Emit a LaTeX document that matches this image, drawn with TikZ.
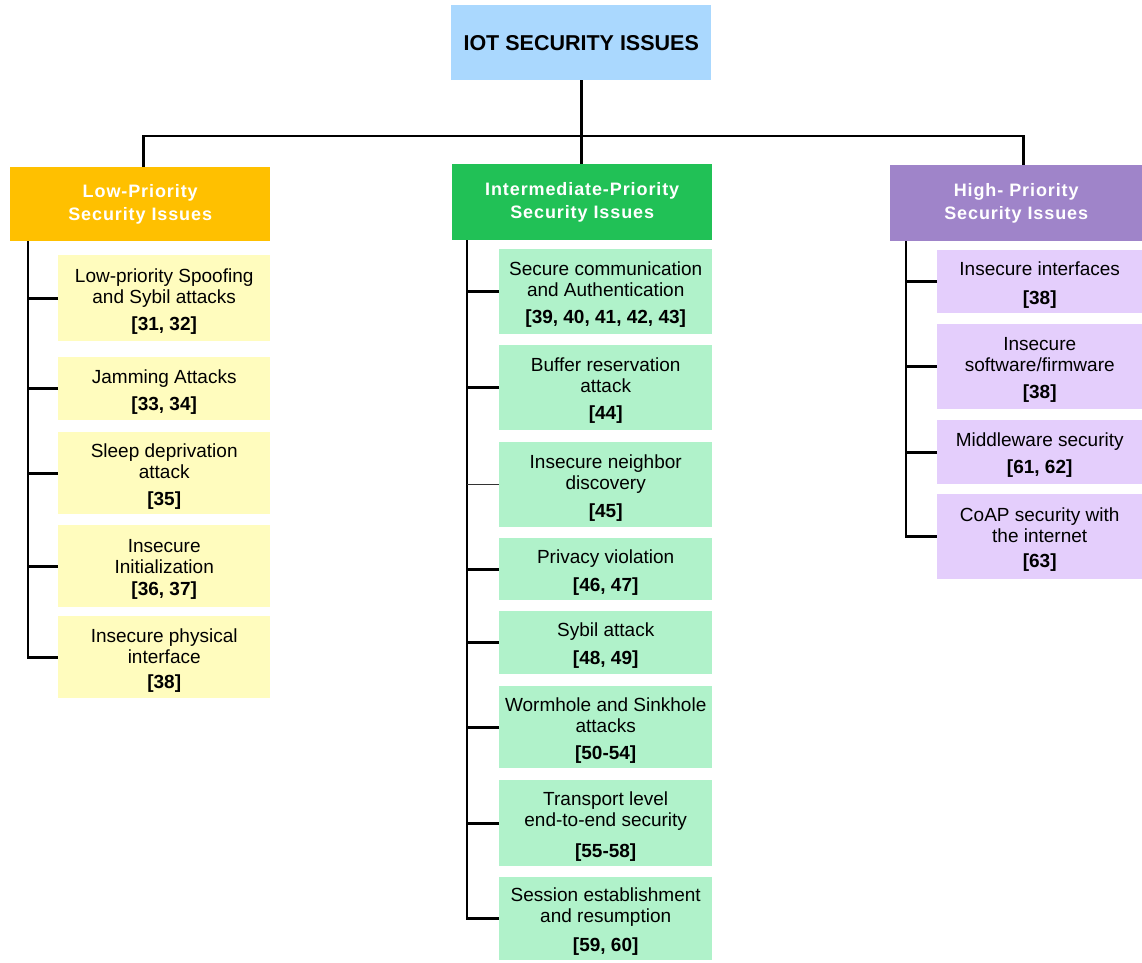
\documentclass[tikz,border=0pt]{standalone}
\usepackage{fontspec}
\setmainfont{Liberation Sans}
\newfontfamily\headfont{Liberation Sans}[LetterSpace=5]
\usetikzlibrary{calc}
\definecolor{rootfill}{RGB}{170,216,254}
\definecolor{lowhead}{RGB}{255,192,0}
\definecolor{midhead}{RGB}{33,193,86}
\definecolor{highhead}{RGB}{159,132,201}
\definecolor{lowfill}{RGB}{255,252,190}
\definecolor{midfill}{RGB}{176,242,202}
\definecolor{highfill}{RGB}{228,206,252}
% item text: lines of the label, then the bold reference line
\newcommand\itemtext[3][6pt]{\begin{tabular}{@{}c@{}}\rule{0pt}{22pt}#2\\[#1]\textbf{#3}\end{tabular}}
\begin{document}
\begin{tikzpicture}[x=1pt,y=-1pt,
  box/.style={anchor=north west, inner sep=0pt, text=black,
    font=\fontsize{19}{21}\selectfont},
  lowitem/.style={box, fill=lowfill, minimum width=212pt},
  miditem/.style={box, fill=midfill, minimum width=213pt},
  highitem/.style={box, fill=highfill, minimum width=205pt},
  header/.style={anchor=north west, inner sep=0pt, align=center, text=white,
    font=\headfont\bfseries\fontsize{18}{23}\selectfont},
  conn/.style={line width=2.6pt, draw=black},
  thinconn/.style={line width=1.3pt, draw=black!80}]
\useasboundingbox (0,0) rectangle (1142,962);

% root
\node[anchor=north west, inner sep=0pt, fill=rootfill, minimum width=260pt,
  minimum height=75pt, font=\bfseries\fontsize{21.5}{24}\selectfont]
  (root) at (451,5) {IOT SECURITY ISSUES};

% priority headers
\node[header, fill=lowhead, minimum width=260pt, minimum height=74pt]
  (lh) at (10,167) {Low-Priority\\Security Issues};
\node[header, fill=midhead, minimum width=260pt, minimum height=76pt]
  (mh) at (452,164) {Intermediate-Priority\\Security Issues};
\node[header, fill=highhead, minimum width=252pt, minimum height=76pt]
  (hh) at (890,165) {High- Priority\\Security Issues};

% low priority items
\node[lowitem, minimum height=86pt] (l1) at (58,255)
  {\itemtext{Low-priority Spoofing\\and Sybil attacks}{[31, 32]}};
\node[lowitem, minimum height=63pt] (l2) at (58,357)
  {\itemtext{Jamming Attacks}{[33, 34]}};
\node[lowitem, minimum height=82pt] (l3) at (58,432)
  {\itemtext{Sleep deprivation\\attack}{[35]}};
\node[lowitem, minimum height=82pt] (l4) at (58,525)
  {\itemtext[1pt]{Insecure\\Initialization}{[36, 37]}};
\node[lowitem, minimum height=82pt] (l5) at (58,616)
  {\itemtext[4pt]{Insecure physical\\interface}{[38]}};

% intermediate priority items
\node[miditem, minimum height=85pt] (m1) at (499,249)
  {\itemtext{Secure communication\\and Authentication}{[39, 40, 41, 42, 43]}};
\node[miditem, minimum height=85pt] (m2) at (499,345)
  {\itemtext{Buffer reservation\\attack}{[44]}};
\node[miditem, minimum height=85pt] (m3) at (499,442)
  {\itemtext[7pt]{Insecure neighbor\\discovery}{[45]}};
\node[miditem, minimum height=62pt] (m4) at (499,538)
  {\itemtext[7pt]{Privacy violation}{[46, 47]}};
\node[miditem, minimum height=63pt] (m5) at (499,611)
  {\itemtext[7pt]{Sybil attack}{[48, 49]}};
\node[miditem, minimum height=82pt] (m6) at (499,686)
  {\itemtext{Wormhole and Sinkhole\\attacks}{[50-54]}};
\node[miditem, minimum height=86pt] (m7) at (499,780)
  {\itemtext[10pt]{Transport level\\end-to-end security}{[55-58]}};
\node[miditem, minimum height=83pt] (m8) at (499,877)
  {\itemtext[8pt]{Session establishment\\and resumption}{[59, 60]}};

% high priority items
\node[highitem, minimum height=63pt] (h1) at (937,250)
  {\itemtext[8pt]{Insecure interfaces}{[38]}};
\node[highitem, minimum height=85pt] (h2) at (937,324)
  {\itemtext{Insecure\\software/firmware}{[38]}};
\node[highitem, minimum height=64pt] (h3) at (937,420)
  {\itemtext{Middleware security}{[61, 62]}};
\node[highitem, minimum height=85pt] (h4) at (937,494)
  {\itemtext[4pt]{CoAP security with\\the internet}{[63]}};

% root to headers
\draw[conn] (root.south) -- (root.south |- mh.north);
\draw[conn] ($(lh.north)+(3,0)$) -- ++(0,-31) -| ($(hh.north)+(7,0)$);

% low priority tree
\draw[conn] ($(lh.south west)+(18,0)$) |- (l5.west);
\foreach \i in {1,...,4} \draw[conn] (l\i.west) -- ++(-30,0);

% intermediate priority tree
\draw[conn] ($(mh.south west)+(15,0)$) |- (m8.west);
\foreach \i in {1,2,4,5,6,7} \draw[conn] (m\i.west) -- ++(-32,0);
\draw[thinconn] (m3.west) -- ++(-32,0);

% high priority tree
\draw[conn] ($(hh.south west)+(16,0)$) |- (h4.west);
\foreach \i in {1,2,3} \draw[conn] (h\i.west) -- ++(-31,0);
\end{tikzpicture}
\end{document}
